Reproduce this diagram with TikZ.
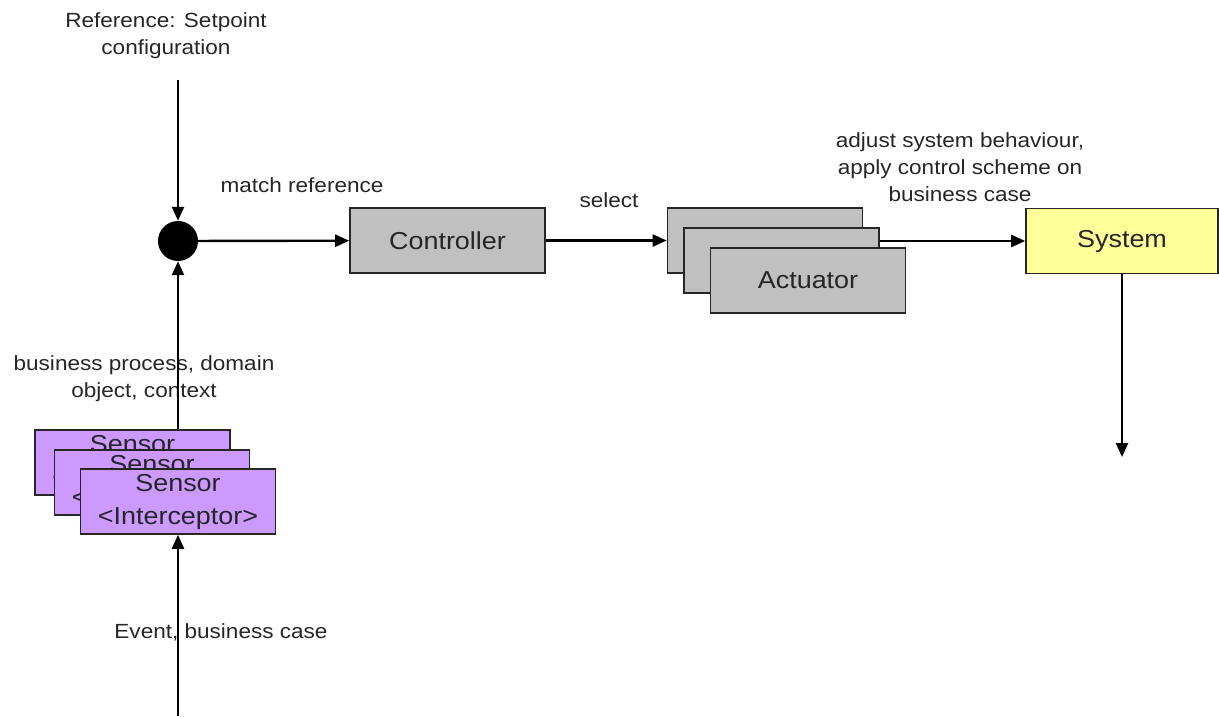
\documentclass[tikz,border=0pt]{standalone}
\usepackage{fontspec}
\setmainfont{Liberation Sans}[FakeStretch=1.1]
\usetikzlibrary{arrows.meta}
\definecolor{boxgray}{HTML}{C0C0C0}
\definecolor{sensorpurple}{HTML}{CC99FF}
\definecolor{sysyellow}{HTML}{FFFF99}
\begin{document}
\begin{tikzpicture}[x=1pt,y=-1pt,
  lbl/.style={align=center,font=\fontsize{20.5}{27}\selectfont,inner sep=0pt,text=black!85},
  blk/.style={draw=black!85,line width=1.6pt,minimum width=195pt,minimum height=65pt,inner sep=0pt,align=center,font=\fontsize{24.5}{33}\selectfont,text=black!85},
  graybox/.style={blk,fill=boxgray},
  sensorbox/.style={blk,fill=sensorpurple},
  sysbox/.style={blk,fill=sysyellow},
  arr/.style={line width=2.4pt,-{Triangle[length=14pt,width=12pt]}}]
\useasboundingbox (0,0) rectangle (1219,716);
\fill[white] (0,0) rectangle (1219,716);

% summing point
\node[circle,fill=black,minimum size=40pt,inner sep=0pt] (dot) at (178,241) {};
\coordinate (refin) at (178,80);
\node[lbl] (reflbl) at (166,36) {Reference: Setpoint\\configuration};

% controller
\node[graybox] (ctrl) at (447.5,240.5) {Controller};

% actuators
\node[graybox] (a1) at (765,240.5) {};
\node[graybox] (a2) at (781.5,260.5) {};
\node[graybox] (a3) at (808,280.5) {Actuator};

% system
\node[sysbox,minimum width=192pt] (sys) at (1122,241) {System};
\coordinate (sysout) at (1122,457);

% sensors
\node[sensorbox] (s1) at (132.5,462.5) {Sensor\\<Interceptor>};
\node[sensorbox] (s2) at (152,482.5) {Sensor\\<Interceptor>};
\node[sensorbox] (s3) at (178,501.5) {Sensor\\<Interceptor>};
\coordinate (evin) at (178,716);

% labels
\node[lbl] (matchlbl) at (302,185) {match reference};
\node[lbl] (sellbl) at (609,200) {select};
\node[lbl] (adjlbl) at (960,167) {adjust system behaviour,\\apply control scheme on\\business case};
\node[lbl] (bplbl) at (144,379) {business process, domain\\object, context};
\node[lbl] (evlbl) at (221,632) {Event, business case};

% connectors
\draw[arr] (refin) -- (dot);
\draw[arr] (dot |- s1.north) -- (dot);
\draw[arr] (dot) -- (ctrl);
\draw[arr] (ctrl) -- (a1.west |- ctrl);
\draw[arr] (a2.east |- sys.west) -- (sys.west);
\draw[arr] (sys.south) -- (sysout);
\draw[arr] (evin) -- (s3.south);
\end{tikzpicture}
\end{document}
